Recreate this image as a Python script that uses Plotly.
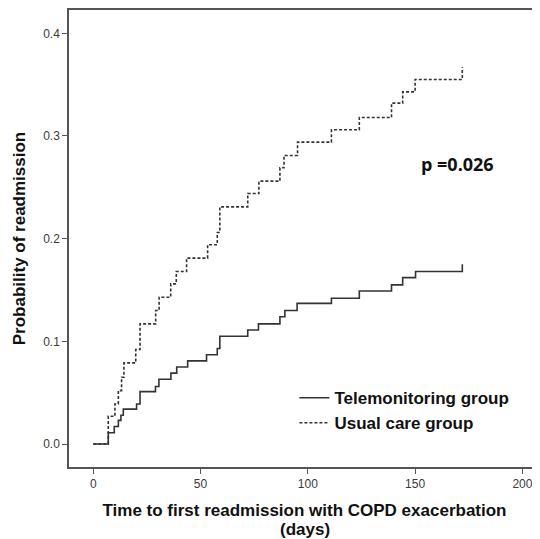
import plotly.graph_objects as go

# Telemonitoring group (cumulative probability of readmission)
tele_days = [0, 7, 9.8, 11.7, 12.9, 14, 20.2, 21.8, 29, 30.6, 36.2, 38.9, 44, 52.8, 57.8, 59,
             72, 77, 87, 89.3, 95, 111, 124, 139, 144.2, 150.2, 172]
tele_prob = [0, 0.011, 0.017, 0.023, 0.028, 0.034, 0.039, 0.051, 0.056, 0.063, 0.069, 0.075,
             0.081, 0.087, 0.093, 0.105, 0.111, 0.117, 0.124, 0.130, 0.137, 0.142, 0.149,
             0.155, 0.162, 0.168, 0.175]

# Usual care group
usual_days = [0, 7, 10.1, 11.7, 13.2, 14.3, 19.8, 21.8, 29.1, 30.7, 36.1, 38.7, 43.5, 53.3,
              57.8, 59, 72, 77.2, 87, 88.9, 95.2, 111, 124, 139, 144.2, 150, 172]
usual_prob = [0, 0.027, 0.039, 0.052, 0.065, 0.079, 0.092, 0.117, 0.130, 0.143, 0.156, 0.168,
              0.181, 0.194, 0.206, 0.231, 0.244, 0.256, 0.269, 0.281, 0.294, 0.306, 0.318,
              0.332, 0.343, 0.355, 0.367]

x_ticks = [0, 50, 100, 150, 200]
y_ticks = [0.0, 0.1, 0.2, 0.3, 0.4]
y_tick_labels = ["0.0", "0.1", "0.2", "0.3", "0.4"]

fig = go.Figure()
fig.add_trace(go.Scatter(x=tele_days, y=tele_prob, mode="lines", line_shape="hv",
                         name="Telemonitoring group", legendgroup="tele",
                         line=dict(color="#333333", width=1.6)))
fig.add_trace(go.Scatter(x=usual_days, y=usual_prob, mode="lines", line_shape="hv",
                         name="Usual care group", legendgroup="usual",
                         line=dict(color="#333333", width=1.6, dash="3px,2px")))

axis_font = dict(family="Liberation Sans, Arial, sans-serif", size=12, color="#3a3a3a")
title_font = dict(family="Liberation Sans, Arial, sans-serif", size=17, color="#111111", weight="bold")

# the page body has an 8px margin, so the figure is sized/offset to compensate
fig.update_layout(
    width=532, height=531,
    margin=dict(l=61, r=0, t=2, b=72),
    plot_bgcolor="white", paper_bgcolor="white",
    showlegend=True,
    legend=dict(x=0.4786, y=0.19, xanchor="left", yanchor="top",
                bgcolor="rgba(0,0,0,0)", itemwidth=30,
                font=dict(family="Liberation Sans, Arial, sans-serif", size=17,
                          color="#111111", weight="bold"),
                tracegroupgap=0),
    xaxis=dict(range=[-11.3, 208.2], tickvals=x_ticks, ticks="outside", ticklen=5,
               tickcolor="#555555", showline=True, linecolor="#555555", linewidth=1.5,
               mirror=True, showgrid=False, zeroline=False, tickfont=axis_font,
               automargin=False,
               title=dict(text="Time to first readmission with COPD exacerbation",
                          font=title_font, standoff=14)),
    yaxis=dict(range=[-0.0224, 0.4227], tickvals=y_ticks, ticktext=y_tick_labels,
               ticks="outside", ticklen=5, tickcolor="#555555", showline=True,
               linecolor="#555555", linewidth=1.5, showgrid=False, zeroline=False,
               tickfont=axis_font, automargin=False,
               title=dict(text="Probability of readmission", font=title_font, standoff=13)),
)

fig.add_annotation(x=0.501, y=-0.1364, xref="paper", yref="paper", text="(days)",
                   showarrow=False, xanchor="center", yanchor="middle",
                   font=title_font)

fig.add_annotation(x=0.825, y=0.662, xref="paper", yref="paper", text="p =0.026",
                   showarrow=False, xanchor="center", yanchor="middle",
                   font=dict(family="Open Sans, Lato, sans-serif", size=18,
                             color="#111111", weight="bold"))

fig.write_html("out.html")
